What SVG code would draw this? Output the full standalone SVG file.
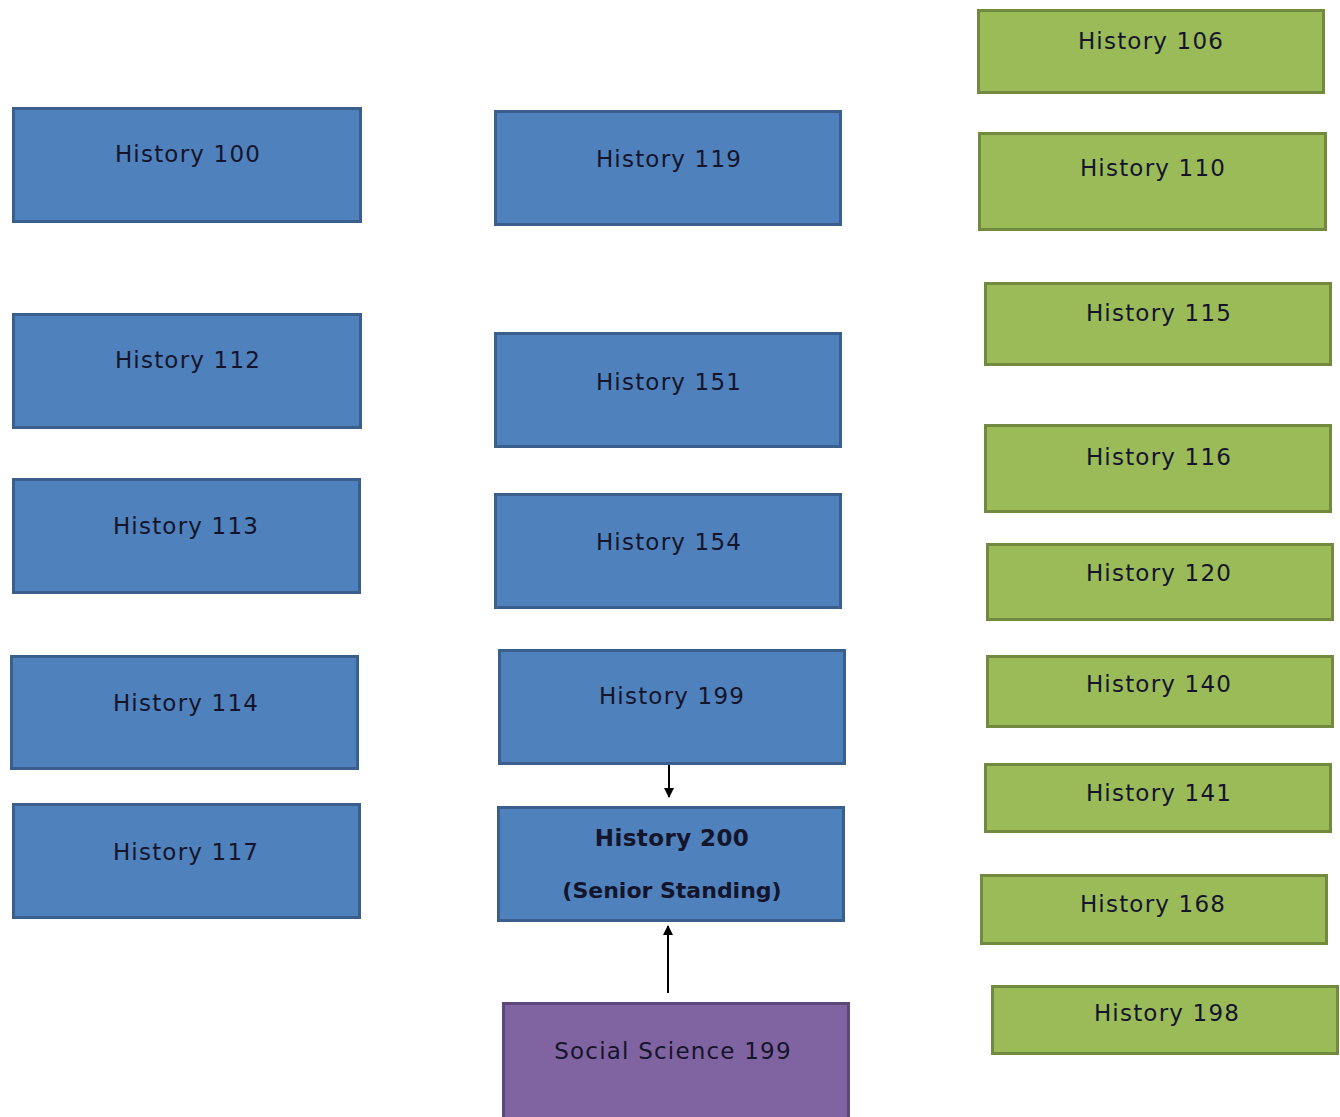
<svg xmlns="http://www.w3.org/2000/svg" width="1340" height="1117" viewBox="0 0 1340 1117">
<defs>
<style>
.b{fill:#4F81BD;stroke:#3A5F8C;stroke-width:3}
.g{fill:#9BBB59;stroke:#728A40;stroke-width:3}
.p{fill:#8064A2;stroke:#5D4878;stroke-width:3}
text{font-family:"DejaVu Sans",Verdana,sans-serif;font-size:23px;letter-spacing:1.2px;fill:#14142a;text-anchor:middle}
.bd{font-weight:bold;letter-spacing:0.4px}
.c{stroke:#000;stroke-width:2;fill:none}
</style>
<marker id="ah" viewBox="0 0 10 10" refX="9" refY="5" markerWidth="12" markerHeight="10" markerUnits="userSpaceOnUse" orient="auto"><path d="M0,0 L10,5 L0,10 z" fill="#000"/></marker>
</defs>
<rect width="1340" height="1117" fill="#fff"/>
<g id="connectors">
<line class="c" x1="669" y1="764" x2="669" y2="797" marker-end="url(#ah)"/>
<line class="c" x1="668" y1="993" x2="668" y2="926" marker-end="url(#ah)"/>
</g>
<g id="h100"><rect class="b" x="13.5" y="108.5" width="347" height="113"/><text x="188" y="162">History 100</text></g>
<g id="h112"><rect class="b" x="13.5" y="314.5" width="347" height="113"/><text x="188" y="368">History 112</text></g>
<g id="h113"><rect class="b" x="13.5" y="479.5" width="346" height="113"/><text x="186" y="534">History 113</text></g>
<g id="h114"><rect class="b" x="11.5" y="656.5" width="346" height="112"/><text x="186" y="711">History 114</text></g>
<g id="h117"><rect class="b" x="13.5" y="804.5" width="346" height="113"/><text x="186" y="860">History 117</text></g>
<g id="h119"><rect class="b" x="495.5" y="111.5" width="345" height="113"/><text x="669" y="167">History 119</text></g>
<g id="h151"><rect class="b" x="495.5" y="333.5" width="345" height="113"/><text x="669" y="390">History 151</text></g>
<g id="h154"><rect class="b" x="495.5" y="494.5" width="345" height="113"/><text x="669" y="550">History 154</text></g>
<g id="h199"><rect class="b" x="499.5" y="650.5" width="345" height="113"/><text x="672" y="704">History 199</text></g>
<g id="h200"><rect class="b" x="498.5" y="807.5" width="345" height="113"/><text class="bd" x="672" y="846">History 200</text><text class="bd" x="672" y="898" style="letter-spacing:0;font-size:22px">(Senior Standing)</text></g>
<g id="ss199"><rect class="p" x="503.5" y="1003.5" width="345" height="116"/><text x="673" y="1059">Social Science 199</text></g>
<g id="h106"><rect class="g" x="978.5" y="10.5" width="345" height="82"/><text x="1151" y="49">History 106</text></g>
<g id="h110"><rect class="g" x="979.5" y="133.5" width="346" height="96"/><text x="1153" y="176">History 110</text></g>
<g id="h115"><rect class="g" x="985.5" y="283.5" width="345" height="81"/><text x="1159" y="321">History 115</text></g>
<g id="h116"><rect class="g" x="985.5" y="425.5" width="345" height="86"/><text x="1159" y="465">History 116</text></g>
<g id="h120"><rect class="g" x="987.5" y="544.5" width="345" height="75"/><text x="1159" y="581">History 120</text></g>
<g id="h140"><rect class="g" x="987.5" y="656.5" width="345" height="70"/><text x="1159" y="692">History 140</text></g>
<g id="h141"><rect class="g" x="985.5" y="764.5" width="345" height="67"/><text x="1159" y="801">History 141</text></g>
<g id="h168"><rect class="g" x="981.5" y="875.5" width="345" height="68"/><text x="1153" y="912">History 168</text></g>
<g id="h198"><rect class="g" x="992.5" y="986.5" width="345" height="67"/><text x="1167" y="1021">History 198</text></g>
</svg>
